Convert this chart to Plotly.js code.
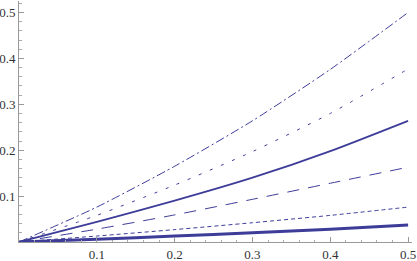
<!DOCTYPE html>
<html>
<head>
<meta charset="utf-8">
<script src="https://cdn.plot.ly/plotly-3.0.1.min.js"></script>
<style>html,body{margin:0;padding:0;background:#fff;}#chart{width:417px;height:261px;}</style>
</head>
<body>
<div id="chart"></div>
<script>
var xValues = [0, 0.1, 0.2, 0.3, 0.4, 0.5];
var dashDotSeries = [0, 0.076, 0.165, 0.264, 0.376, 0.500];
var shortDashUpper = [0, 0.058, 0.124, 0.197, 0.280, 0.377];
var solidSeries = [0, 0.044, 0.090, 0.140, 0.198, 0.264];
var longDashSeries = [0, 0.028, 0.059, 0.093, 0.128, 0.163];
var shortDashLower = [0, 0.013, 0.027, 0.042, 0.058, 0.076];
var thickSeries = [0, 0.006, 0.013, 0.020, 0.028, 0.037];
var tickVals = [0.1, 0.2, 0.3, 0.4, 0.5];
var tickText = ['0.1', '0.2', '0.3', '0.4', '0.5'];

var col = '#3d3d99';
function tr(y, w, dash) {
  return {x: xValues, y: y, type: 'scatter', mode: 'lines',
    line: {color: col, width: w, dash: dash, shape: 'spline', smoothing: 0.6},
    hoverinfo: 'skip', showlegend: false};
}
var data = [
  tr(dashDotSeries, 1, '9px,3px,2px,3px'),
  tr(shortDashUpper, 1, '3px,9px'),
  tr(solidSeries, 1.8, 'solid'),
  tr(longDashSeries, 1, '12px,9px'),
  tr(shortDashLower, 1, '4px,3px'),
  tr(thickSeries, 3, 'solid')
];
var axisCommon = {
  showgrid: false, zeroline: false, showline: true, linecolor: '#999', linewidth: 1,
  ticks: 'inside', ticklen: 5, tickcolor: '#999', tickwidth: 1,
  tickvals: tickVals, ticktext: tickText,
  tickfont: {family: 'Liberation Serif', size: 13, color: '#333'},
  minor: {dtick: 0.02, ticks: 'inside', ticklen: 2.5, tickcolor: '#aaa', showgrid: false}
};
var layout = {
  width: 417, height: 261,
  margin: {l: 19, r: 5, t: 1, b: 19, pad: 0},
  paper_bgcolor: '#fff', plot_bgcolor: '#fff',
  xaxis: Object.assign({}, axisCommon, {range: [0, 0.505], ticklabelstandoff: 0}),
  yaxis: Object.assign({}, axisCommon, {range: [0, 0.525], ticklabelstandoff: 0})
};
Plotly.newPlot('chart', data, layout, {staticPlot: true, displayModeBar: false});
</script>
</body>
</html>
